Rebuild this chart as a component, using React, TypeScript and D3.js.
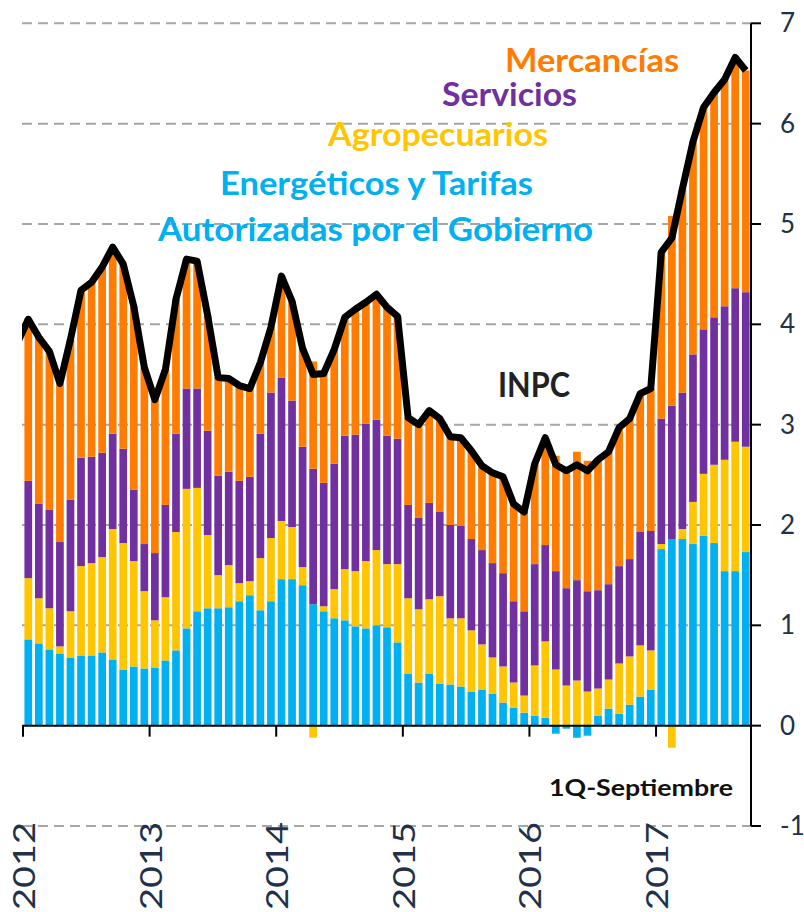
import React from "react";
import * as d3 from "d3";

// contribuciones a la inflación anual (puntos porcentuales), ene 2012 – 1Q sep 2017
const years = [2012, 2013, 2014, 2015, 2016, 2017];
const yTicks = [-1, 0, 1, 2, 3, 4, 5, 6, 7];

const energeticos = [
  0.86, 0.82, 0.76, 0.72, 0.68, 0.7, 0.7, 0.73, 0.66, 0.56, 0.59, 0.57,
  0.58, 0.65, 0.75, 0.97, 1.14, 1.17, 1.17, 1.18, 1.24, 1.3, 1.15, 1.24,
  1.46, 1.46, 1.4, 1.21, 1.14, 1.07, 1.05, 0.99, 0.97, 1.0, 0.98, 0.83,
  0.52, 0.43, 0.52, 0.42, 0.41, 0.39, 0.34, 0.36, 0.32, 0.23, 0.18, 0.13,
  0.1, 0.08, -0.08, -0.03, -0.12, -0.1, 0.1, 0.17, 0.12, 0.21, 0.29, 0.36,
  1.76, 1.86, 1.86, 1.81, 1.89, 1.82, 1.54, 1.54, 1.73,
];
const agropecuarios = [
  0.61, 0.45, 0.41, 0.07, 0.46, 0.89, 0.92, 0.95, 1.3, 1.26, 1.05, 0.77,
  0.47, 0.63, 1.18, 1.39, 1.23, 0.73, 0.33, 0.42, 0.18, 0.14, 0.52, 0.63,
  0.58, 0.52, 0.18, -0.12, 0.05, 0.29, 0.51, 0.55, 0.67, 0.75, 0.63, 0.78,
  0.75, 0.73, 0.74, 0.87, 0.66, 0.68, 0.61, 0.45, 0.36, 0.36, 0.25, 0.17,
  0.5, 0.76, 0.56, 0.4, 0.45, 0.34, 0.27, 0.29, 0.5, 0.48, 0.51, 0.39,
  0.05, -0.22, 0.1, 0.42, 0.62, 0.78, 1.11, 1.29, 1.05,
];
const servicios = [
  0.97, 0.94, 0.98, 1.04, 1.11, 1.08, 1.06, 1.04, 0.95, 0.94, 0.71, 0.47,
  0.67, 0.92, 0.98, 1.0, 0.99, 1.04, 0.99, 0.93, 1.02, 1.04, 1.24, 1.45,
  1.43, 1.26, 1.2, 1.35, 1.23, 1.25, 1.33, 1.36, 1.37, 1.3, 1.28, 1.25,
  0.93, 0.91, 0.96, 0.84, 0.93, 0.92, 0.91, 0.94, 0.94, 0.93, 0.81, 0.84,
  1.01, 0.96, 0.98, 0.97, 1.0, 1.0, 0.98, 0.95, 0.97, 0.97, 1.13, 1.19,
  1.25, 1.33, 1.36, 1.47, 1.44, 1.47, 1.53, 1.53, 1.54,
];
const mercancias = [
  1.62, 1.67, 1.58, 1.58, 1.6, 1.67, 1.74, 1.85, 1.86, 1.84, 1.83, 1.76,
  1.53, 1.35, 1.34, 1.29, 1.27, 1.15, 0.98, 0.93, 0.95, 0.88, 0.71, 0.65,
  1.01, 0.99, 0.98, 1.07, 1.09, 1.14, 1.18, 1.25, 1.22, 1.25, 1.28, 1.22,
  0.87, 0.93, 0.92, 0.93, 0.88, 0.88, 0.88, 0.84, 0.9, 0.96, 0.97, 0.99,
  1.0, 1.07, 1.15, 1.2, 1.28, 1.3, 1.3, 1.32, 1.38, 1.4, 1.38, 1.42,
  1.66, 1.89, 2.03, 2.12, 2.21, 2.24, 2.26, 2.3, 2.21,
];
const inpcDic2011 = 3.82;
const inpc = [
  4.05, 3.87, 3.73, 3.41, 3.85, 4.34, 4.42, 4.57, 4.77, 4.6, 4.18, 3.57,
  3.25, 3.55, 4.25, 4.65, 4.63, 4.09, 3.47, 3.46, 3.39, 3.36, 3.62, 3.97,
  4.48, 4.23, 3.76, 3.5, 3.51, 3.75, 4.07, 4.15, 4.22, 4.3, 4.17, 4.08,
  3.07, 3.0, 3.14, 3.06, 2.88, 2.87, 2.74, 2.59, 2.52, 2.48, 2.21, 2.13,
  2.61, 2.87, 2.6, 2.54, 2.6, 2.54, 2.65, 2.73, 2.97, 3.06, 3.31, 3.36,
  4.72, 4.86, 5.35, 5.82, 6.16, 6.31, 6.44, 6.66, 6.53,
];

const series = [
  { key: "energeticos", values: energeticos, color: "#00B0F0" },
  { key: "agropecuarios", values: agropecuarios, color: "#FFC600" },
  { key: "servicios", values: servicios, color: "#7030A0" },
  { key: "mercancias", values: mercancias, color: "#FF7C00" },
];

const legend = [
  { text: "Mercancías", x: 505, y: 72, w: 174, color: "#FF7C00" },
  { text: "Servicios", x: 442, y: 106, w: 135, color: "#7030A0" },
  { text: "Agropecuarios", x: 328, y: 146, w: 220, color: "#FFC600" },
  { text: "Energéticos y Tarifas", x: 220, y: 195, w: 313, color: "#00B0F0" },
  { text: "Autorizadas por el Gobierno", x: 158, y: 241, w: 435, color: "#00B0F0" },
];

function Chart() {
  const width = 804;
  const height = 912;
  const left = 23;
  const right = 751;
  const font = "Lato, 'Open Sans', sans-serif";
  const navy = "#22304A";

  const months = d3.timeMonth.range(new Date(2012, 0, 1), new Date(2017, 9, 1));

  const x = d3
    .scaleBand<Date>()
    .domain(months)
    .range([left, right])
    .paddingInner(0.27)
    .paddingOuter(0.135);

  const y = d3.scaleLinear().domain([-1, 7]).range([826, 23.3]);

  const rows = months.map((m, i) => {
    const r: any = { month: m };
    series.forEach((s) => (r[s.key] = s.values[i]));
    return r;
  });

  const stacked = d3
    .stack<any>()
    .keys(series.map((s) => s.key))
    .offset(d3.stackOffsetDiverging)(rows);

  const bw = x.bandwidth();
  const cx = (m: Date) => (x(m) as number) + bw / 2;

  const linePts: [number, number][] = [
    [cx(months[0]) - x.step(), y(inpcDic2011)],
    ...months.map((m, i) => [cx(m), y(inpc[i])] as [number, number]),
  ];
  const line = d3.line().curve(d3.curveLinear)(linePts) as string;

  const yearX = (yr: number) => left + (yr - 2012) * 12 * x.step();

  return (
    <svg
      width={width}
      height={height}
      style={{ position: "absolute", left: 0, top: 0, background: "#fff" }}
    >
      <defs>
        <clipPath id="plot">
          <rect x={22} y={0} width={right - 22} height={height} />
        </clipPath>
      </defs>

      {yTicks
        .filter((t) => t !== 0)
        .map((t) => (
          <line
            key={t}
            x1={22}
            x2={right}
            y1={y(t)}
            y2={y(t)}
            stroke="#A6A6A6"
            strokeWidth={2}
            strokeDasharray="10,6"
          />
        ))}

      <g>
        {stacked.map((layer, si) => (
          <g key={layer.key} fill={series[si].color}>
            {layer.map((d, i) => (
              <rect
                key={i}
                x={x(months[i])}
                width={bw}
                y={y(Math.max(d[0], d[1]))}
                height={Math.abs(y(d[0]) - y(d[1]))}
              />
            ))}
          </g>
        ))}
      </g>

      <line x1={22} x2={right} y1={y(0)} y2={y(0)} stroke="#000" strokeWidth={2} />
      {years.map((yr) => (
        <line
          key={yr}
          x1={yearX(yr)}
          x2={yearX(yr)}
          y1={y(0)}
          y2={y(0) + 11}
          stroke="#000"
          strokeWidth={2}
        />
      ))}

      <line x1={right} x2={right} y1={y(7)} y2={y(-1)} stroke="#000" strokeWidth={2} />
      {yTicks.map((t) => (
        <g key={t}>
          <line x1={right} x2={right + 10} y1={y(t)} y2={y(t)} stroke="#000" strokeWidth={2} />
          <text
            x={780}
            y={y(t) + 9}
            fontFamily={font}
            fontSize={26}
            fill={navy}
          >
            {t}
          </text>
        </g>
      ))}

      {years.map((yr) => (
        <text
          key={yr}
          transform={`translate(${yearX(yr) + 1 + 11},910) rotate(-90)`}
          fontFamily={font}
          fontSize={31}
          fill={navy}
          textLength={88}
          lengthAdjust="spacingAndGlyphs"
        >
          {yr}
        </text>
      ))}

      <path
        d={line}
        clipPath="url(#plot)"
        fill="none"
        stroke="#000"
        strokeWidth={7}
        strokeLinejoin="round"
      />

      {legend.map((l) => (
        <text
          key={l.text}
          x={l.x}
          y={l.y}
          fill={l.color}
          fontFamily={font}
          fontWeight="bold"
          fontSize={32}
          textLength={l.w}
          lengthAdjust="spacingAndGlyphs"
        >
          {l.text}
        </text>
      ))}

      <text
        x={498}
        y={397}
        fill="#222"
        fontFamily={font}
        fontWeight="bold"
        fontSize={34}
        textLength={72}
        lengthAdjust="spacingAndGlyphs"
      >
        INPC
      </text>
      <text
        x={549}
        y={796}
        fill="#111"
        fontFamily={font}
        fontWeight="bold"
        fontSize={23}
        textLength={184}
        lengthAdjust="spacingAndGlyphs"
      >
        1Q-Septiembre
      </text>
    </svg>
  );
}

export default function App() {
  return <Chart />;
}
